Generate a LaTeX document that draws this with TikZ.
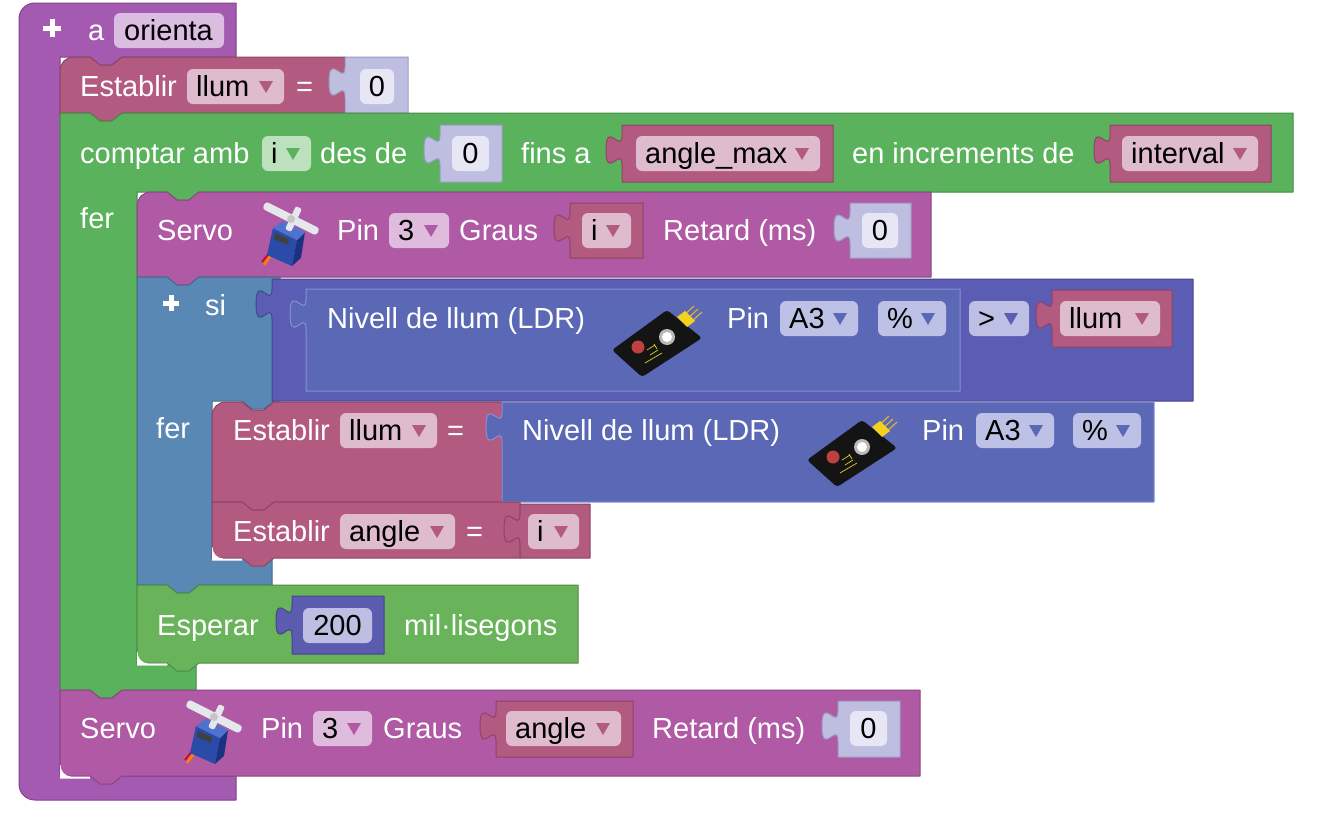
\documentclass[tikz,border=0pt]{standalone}
\usepackage{fontspec}
\setmainfont{Liberation Sans}
\definecolor{funcC}{HTML}{A35AB0}\definecolor{funcB}{HTML}{80458A}\definecolor{funcF}{HTML}{DCBDE2}
\definecolor{varC}{HTML}{B35A80}\definecolor{varB}{HTML}{8C4564}\definecolor{varF}{HTML}{DEBBCD}
\definecolor{loopC}{HTML}{5BB25C}\definecolor{loopB}{HTML}{458A46}\definecolor{loopF}{HTML}{BDE0BD}
\definecolor{servoC}{HTML}{B059A5}\definecolor{servoB}{HTML}{8A4582}\definecolor{servoF}{HTML}{DFBCDE}
\definecolor{ifC}{HTML}{5A88B4}\definecolor{ifB}{HTML}{45698C}
\definecolor{compC}{HTML}{5B5CB4}\definecolor{compB}{HTML}{45468C}\definecolor{compF}{HTML}{BDBFE4}
\definecolor{ldrC}{HTML}{5A68B5}\definecolor{ldrB}{HTML}{8890D2}\definecolor{ldrF}{HTML}{BDC1E5}
\definecolor{numC}{HTML}{BDBEE0}\definecolor{numB}{HTML}{9A9BC0}\definecolor{numF}{HTML}{E6E6F4}
\definecolor{waitC}{HTML}{69B35B}\definecolor{waitB}{HTML}{508A45}
\definecolor{wnumC}{HTML}{5B5BAF}\definecolor{wnumB}{HTML}{45458A}\definecolor{wnumF}{HTML}{BDBEE2}
\definecolor{srvF}{HTML}{2A4CA8}\definecolor{srvR}{HTML}{1B3282}\definecolor{srvT}{HTML}{4F72CC}
\definecolor{hornC}{HTML}{E4E8EC}\definecolor{pinC}{HTML}{D8B040}\definecolor{hdrC}{HTML}{F2D21E}
\tikzset{
 lbl/.style={text=white, anchor=base west, inner sep=0pt, font=\fontsize{29}{32}\selectfont},
 ftxt/.style={text=black, anchor=base west, inner sep=0pt, font=\fontsize{29}{32}\selectfont},
 ctxt/.style={text=black, anchor=base, inner sep=0pt, font=\fontsize{29}{32}\selectfont},
 blk/.style={line width=1pt, line join=round},
}
\newcommand\nR[2]{-- ({#1+30},{#2}) -- ({#1+40},{#2+8}) -- ({#1+52},{#2+8}) -- ({#1+62},{#2})}
\newcommand\nL[2]{-- ({#1+62},{#2}) -- ({#1+52},{#2+8}) -- ({#1+40},{#2+8}) -- ({#1+30},{#2})}
\newcommand\valblk[6]{\filldraw[blk, fill=#5, draw=#6] (#1,#2) -- (#1,{#2+10}) .. controls (#1,{#2+30}) and ({#1-16},{#2-6}) .. ({#1-16},{#2+25}) .. controls ({#1-16},{#2+56}) and (#1,{#2+20}) .. (#1,{#2+40}) -- (#1,#4) -- (#3,#4) -- (#3,#2) -- cycle;}
\newcommand\ddf[7]{\fill[#5, rounded corners=6] (#2,{#4-27}) rectangle (#3,{#4+8}); \node[ftxt] (#1) at ({#2+9},#4) {#7}; \fill[#6] ({#3-25},{#4-15}) -- ({#3-11},{#4-15}) -- ({#3-18},{#4-3}) -- cycle;}
\newcommand\numf[6]{\fill[#5, rounded corners=6] (#2,{#4-27}) rectangle (#3,{#4+8}); \node[ctxt] (#1) at ({(#2+#3)/2},#4) {#6};}
\newcommand\icorner[2]{\fill[white] (#1,{#2-11}) -- (#1,{#2+2.5}) -- ({#1+30},{#2+2.5}) -- ({#1+30},{#2+0.5}) -- ({#1+11},{#2+0.5}) .. controls ({#1+5},{#2+0.5}) and ({#1+0.5},{#2-5}) .. ({#1+0.5},{#2-11}) -- cycle;}
\newcommand\servoicon[1]{%
\begin{scope}[shift={#1}]
 \draw[line width=2.5pt, color=orange] (14,54) -- (6,65);
 \draw[line width=1.5pt, color=red!80!black] (11,53) -- (4,62);
 \fill[srvF] (15,28) -- (39,40) -- (34,66) -- (9,55) -- cycle;
 \fill[srvR] (39,40) -- (47,32) -- (43,58) -- (34,66) -- cycle;
 \fill[srvT] (15,28) -- (25,21) -- (47,32) -- (39,40) -- cycle;
 \fill[black!75] (17,33) -- (31,39) -- (30,45) -- (16,39) -- cycle;
 \fill[hornC, rounded corners=3] (7.8,1.4) -- (61.8,28.4) -- (58.2,35.6) -- (4.2,8.6) -- cycle;
 \fill[hornC, rounded corners=2] (38,6) -- (44,9) -- (33,32) -- (27,29) -- cycle;
 \fill[gray!45] (33,19) circle (4);
\end{scope}}
\newcommand\ldricon[1]{%
\begin{scope}[shift={#1}]
 \fill[black!92, rounded corners=3] (2,45) -- (57,5) -- (92,33) -- (32,72) -- cycle;
 \draw[pinC, line width=1.2pt] (72,12) -- (84,1) (76,15) -- (88,4) (80,18) -- (92,7);
 \fill[hdrC] (67,12) -- (75,6) -- (85,16) -- (77,22) -- cycle;
 \fill[gray!55] (57,32) circle (8);
 \fill[white] (57,32) circle (5);
 \fill[red!50!gray] (28,42) circle (6.5);
 \draw[yellow!85!black, line width=0.7pt] (37,45) -- (45,40) (40,50) -- (48,45) (35,58) -- (52,48) (44,39) -- (47,44);
\end{scope}}
\begin{document}
\begin{tikzpicture}[x=1pt,y=-1pt]
\useasboundingbox (0,0) rectangle (1317,825);
\fill[white] (0,0) rectangle (1317,825);
% ---------- function block
\filldraw[blk, fill=funcC, draw=funcB] (19,19) .. controls (19,10) and (26,3) .. (35,3) -- (236,3) -- (236,57) \nL{60}{57} -- (60,57) -- (60,776) -- (236,776) -- (236,800) -- (35,800) .. controls (26,800) and (19,793) .. (19,784) -- cycle;
\draw[white, line width=5pt] (43,28) -- (61,28) (52,19) -- (52,37);
\node[lbl] (fa) at (88,40) {a};
\fill[funcF, rounded corners=6] (114,13) rectangle (224,48);
\node[ftxt] (fname) at (124,40) {orienta};
% ---------- Establir llum = 0
\filldraw[blk, fill=varC, draw=varB] (60,71) .. controls (60,63) and (66,57) .. (74,57) \nR{60}{57} -- (345,57) -- (345,113) \nL{60}{113} -- (60,113) -- cycle;
\node[lbl] (e1) at (80,96) {Establir};
\ddf{e1v}{187}{284}{96}{varF}{varC}{llum}
\node[lbl] (e1eq) at (296,96) {=};
\valblk{345}{57}{408}{113}{numC}{numB}
\numf{e1n}{360}{394}{96}{numF}{0}
% ---------- comptar
\filldraw[blk, fill=loopC, draw=loopB] (60,113) \nR{60}{113} -- (1293,113) -- (1293,192) \nL{137}{192} -- (137,192) -- (137,665) -- (196,665) -- (196,690) \nL{60}{690} -- (60,690) -- cycle;
\node[lbl] (c1) at (80,163) {comptar amb};
\ddf{c1v}{262}{311}{163}{loopF}{loopC}{i}
\node[lbl] (c2) at (320,163) {des de};
\valblk{440}{125}{502}{182}{numC}{numB}
\numf{c1n}{452}{489}{163}{numF}{0}
\node[lbl] (c3) at (521,163) {fins a};
\valblk{622}{125}{833}{182}{varC}{varB}
\ddf{c2v}{636}{820}{163}{varF}{varC}{angle\_max}
\node[lbl] (c4) at (852,163) {en increments de};
\valblk{1110}{125}{1271}{182}{varC}{varB}
\ddf{c3v}{1122}{1258}{163}{varF}{varC}{interval}
\node[lbl] (c5) at (80,228) {fer};
% ---------- Servo 1
\filldraw[blk, fill=servoC, draw=servoB] (137,206) .. controls (137,198) and (143,192) .. (151,192) \nR{137}{192} -- (931,192) -- (931,277) \nL{137}{277} -- (137,277) -- cycle;
\node[lbl] (s1) at (157,240) {Servo};
\servoicon{(258,200)}
\node[lbl] (s1p) at (337,240) {Pin};
\ddf{s1pin}{389}{449}{240}{servoF}{servoC}{3}
\node[lbl] (s1g) at (459,240) {Graus};
\valblk{570}{203}{643}{258}{varC}{varB}
\ddf{s1i}{582}{631}{240}{varF}{varC}{i}
\node[lbl] (s1r) at (663,240) {Retard (ms)};
\valblk{850}{203}{911}{258}{numC}{numB}
\numf{s1n}{862}{898}{240}{numF}{0}
% ---------- si block
\filldraw[blk, fill=ifC, draw=ifB] (137,277) \nR{137}{277} -- (280,277) -- (280,401) \nL{212}{401} -- (212,401) -- (212,558) -- (272,558) -- (272,585) \nL{137}{585} -- (137,585) -- cycle;
\draw[white, line width=5pt] (163,303) -- (179,303) (171,295) -- (171,311);
\node[lbl] (si) at (205,315) {si};
\node[lbl] (sifer) at (156,438) {fer};
% comparator
\valblk{272}{279}{1193}{401}{compC}{compB}
\valblk{306}{289}{960}{391}{ldrC}{ldrB}
\node[lbl] (l1) at (327,328) {Nivell de llum (LDR)};
\ldricon{(610,305)}
\node[lbl] (l1p) at (727,328) {Pin};
\ddf{l1pin}{780}{858}{328}{ldrF}{ldrC}{A3}
\ddf{l1pc}{878}{946}{328}{ldrF}{ldrC}{\%}
\ddf{cmpop}{969}{1029}{328}{compF}{compC}{>}
\valblk{1052}{290}{1172}{347}{varC}{varB}
\ddf{cmpv}{1060}{1160}{328}{varF}{varC}{llum}
% ---------- Establir llum = LDR
\filldraw[blk, fill=varC, draw=varB] (212,416) .. controls (212,408) and (218,402) .. (226,402) \nR{212}{402} -- (502,402) -- (502,502) \nL{212}{502} -- (212,502) -- cycle;
\node[lbl] (e2) at (233,440) {Establir};
\ddf{e2v}{340}{437}{440}{varF}{varC}{llum}
\node[lbl] (e2eq) at (447,440) {=};
\valblk{502}{402}{1154}{502}{ldrC}{ldrB}
\node[lbl] (l2) at (522,440) {Nivell de llum (LDR)};
\ldricon{(805,415)}
\node[lbl] (l2p) at (922,440) {Pin};
\ddf{l2pin}{976}{1054}{440}{ldrF}{ldrC}{A3}
\ddf{l2pc}{1073}{1141}{440}{ldrF}{ldrC}{\%}
% ---------- Establir angle = i
\filldraw[blk, fill=varC, draw=varB] (212,502) \nR{212}{502} -- (520,502) -- (520,558) \nL{212}{558} -- (212,558) -- cycle;
\icorner{212}{558}
\node[lbl] (e3) at (233,541) {Establir};
\ddf{e3v}{340}{455}{541}{varF}{varC}{angle}
\node[lbl] (e3eq) at (466,541) {=};
\valblk{520}{504}{590}{558}{varC}{varB}
\ddf{e3i}{528}{579}{541}{varF}{varC}{i}
% ---------- Esperar
\filldraw[blk, fill=waitC, draw=waitB] (137,585) \nR{137}{585} -- (578,585) -- (578,663) \nL{137}{663} -- (137,663) -- cycle;
\icorner{137}{663}
\node[lbl] (w1) at (157,635) {Esperar};
\valblk{292}{596}{384}{654}{wnumC}{wnumB}
\numf{w1n}{303}{372}{635}{wnumF}{200}
\node[lbl] (w2) at (404,635) {mil·lisegons};
% ---------- Servo 2
\filldraw[blk, fill=servoC, draw=servoB] (60,690) \nR{60}{690} -- (920,690) -- (920,776) \nL{60}{776} -- (60,776) -- cycle;
\icorner{60}{776}
\node[lbl] (s2) at (80,738) {Servo};
\servoicon{(181,698)}
\node[lbl] (s2p) at (261,738) {Pin};
\ddf{s2pin}{313}{372}{738}{servoF}{servoC}{3}
\node[lbl] (s2g) at (383,738) {Graus};
\valblk{496}{701}{633}{757}{varC}{varB}
\ddf{s2a}{506}{621}{738}{varF}{varC}{angle}
\node[lbl] (s2r) at (652,738) {Retard (ms)};
\valblk{838}{701}{900}{757}{numC}{numB}
\numf{s2n}{850}{887}{738}{numF}{0}
\end{tikzpicture}
\end{document}
